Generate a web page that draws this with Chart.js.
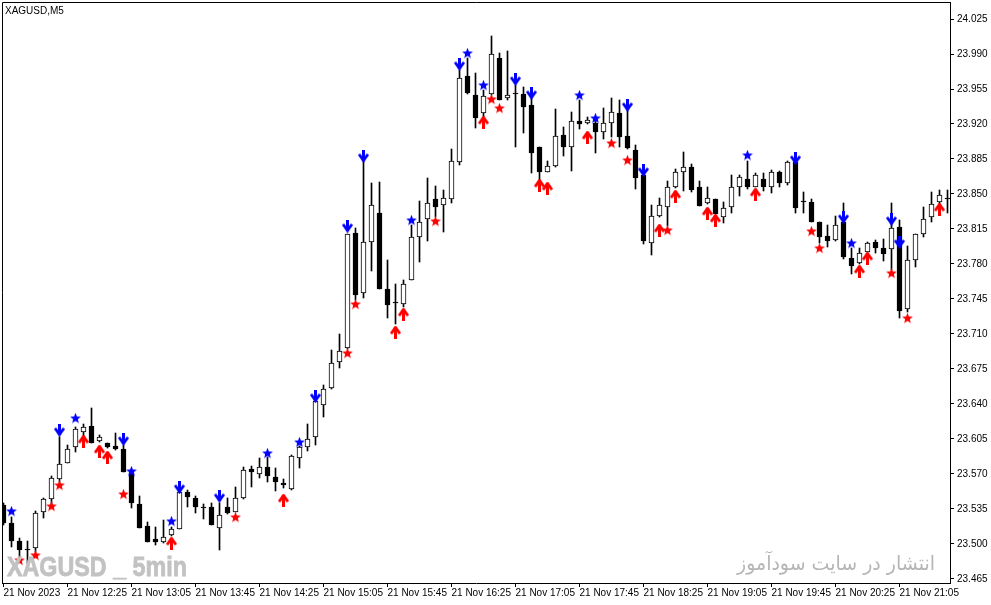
<!DOCTYPE html>
<html><head><meta charset="utf-8">
<script src="https://cdn.jsdelivr.net/npm/chart.js@4.4.0/dist/chart.umd.min.js"></script>
<style>html,body{margin:0;padding:0;background:#fff;overflow:hidden}#wrap{width:991px;height:605px;position:relative}canvas{display:block}</style>
</head><body><div id="wrap"><canvas id="c" width="991" height="605"></canvas></div>
<script>
// ---- data (XAGUSD M5) ----
const opens = [23.539,23.521,23.503,23.494,23.496,23.532,23.545,23.565,23.581,23.597,23.612,23.618,23.603,23.601,23.598,23.595,23.571,23.540,23.518,23.505,23.502,23.509,23.515,23.552,23.546,23.537,23.537,23.516,23.537,23.532,23.546,23.575,23.570,23.577,23.567,23.561,23.555,23.586,23.597,23.607,23.639,23.656,23.682,23.696,23.811,23.751,23.802,23.831,23.755,23.741,23.740,23.764,23.807,23.825,23.845,23.839,23.845,23.882,23.968,23.949,23.931,23.950,23.986,23.946,23.951,23.950,23.939,23.897,23.872,23.878,23.909,23.897,23.923,23.921,23.921,23.912,23.921,23.931,23.908,23.894,23.869,23.801,23.828,23.837,23.857,23.872,23.877,23.857,23.841,23.845,23.827,23.837,23.857,23.865,23.857,23.865,23.857,23.872,23.861,23.882,23.842,23.842,23.822,23.808,23.804,23.822,23.786,23.781,23.792,23.802,23.796,23.795,23.817,23.735,23.784,23.810,23.827,23.842,23.845];
const highs = [23.541,23.527,23.506,23.503,23.533,23.546,23.568,23.607,23.599,23.617,23.620,23.636,23.609,23.601,23.611,23.599,23.571,23.548,23.522,23.517,23.524,23.517,23.553,23.554,23.548,23.540,23.541,23.541,23.546,23.557,23.577,23.578,23.586,23.587,23.576,23.565,23.589,23.598,23.620,23.646,23.659,23.694,23.710,23.810,23.816,23.884,23.861,23.862,23.784,23.760,23.764,23.819,23.843,23.866,23.858,23.854,23.895,23.974,23.986,23.971,23.954,24.008,23.991,23.993,23.959,23.957,23.946,23.897,23.883,23.935,23.917,23.932,23.944,23.927,23.924,23.936,23.946,23.944,23.934,23.899,23.869,23.839,23.846,23.863,23.875,23.892,23.880,23.863,23.857,23.845,23.842,23.869,23.869,23.883,23.871,23.871,23.874,23.873,23.883,23.886,23.852,23.845,23.822,23.819,23.828,23.841,23.796,23.796,23.802,23.804,23.805,23.841,23.824,23.798,23.810,23.837,23.852,23.854,23.854];
const lows = [23.519,23.497,23.486,23.480,23.492,23.526,23.537,23.562,23.581,23.592,23.608,23.601,23.602,23.596,23.594,23.572,23.536,23.516,23.502,23.499,23.501,23.508,23.515,23.537,23.531,23.525,23.519,23.494,23.530,23.532,23.545,23.557,23.566,23.562,23.553,23.556,23.554,23.576,23.593,23.599,23.627,23.655,23.676,23.695,23.744,23.746,23.773,23.755,23.726,23.720,23.737,23.764,23.782,23.803,23.827,23.812,23.841,23.879,23.950,23.916,23.926,23.949,23.944,23.944,23.897,23.911,23.871,23.862,23.872,23.877,23.888,23.873,23.915,23.920,23.891,23.905,23.907,23.897,23.895,23.855,23.800,23.789,23.827,23.818,23.856,23.853,23.852,23.838,23.840,23.830,23.821,23.831,23.848,23.855,23.857,23.853,23.851,23.857,23.859,23.831,23.831,23.822,23.801,23.797,23.803,23.785,23.770,23.780,23.792,23.791,23.783,23.774,23.726,23.732,23.777,23.807,23.822,23.840,23.831];
const closes = [23.521,23.503,23.494,23.494,23.531,23.545,23.566,23.580,23.595,23.615,23.617,23.601,23.607,23.597,23.595,23.572,23.541,23.516,23.502,23.502,23.507,23.515,23.552,23.547,23.537,23.536,23.519,23.529,23.531,23.546,23.574,23.572,23.577,23.568,23.562,23.559,23.588,23.597,23.605,23.643,23.655,23.681,23.693,23.810,23.749,23.802,23.839,23.755,23.739,23.741,23.760,23.807,23.822,23.841,23.837,23.846,23.883,23.966,23.951,23.926,23.948,23.990,23.944,23.949,23.950,23.937,23.891,23.872,23.878,23.908,23.897,23.923,23.920,23.924,23.912,23.921,23.932,23.907,23.896,23.866,23.803,23.828,23.839,23.857,23.872,23.877,23.854,23.838,23.846,23.830,23.836,23.857,23.867,23.857,23.869,23.857,23.872,23.861,23.882,23.836,23.842,23.822,23.807,23.803,23.819,23.787,23.778,23.791,23.801,23.796,23.790,23.816,23.733,23.784,23.810,23.825,23.840,23.849,23.845];

const timeLabels = ["21 Nov 2023","21 Nov 12:25","21 Nov 13:05","21 Nov 13:45","21 Nov 14:25","21 Nov 15:05","21 Nov 15:45","21 Nov 16:25","21 Nov 17:05","21 Nov 17:45","21 Nov 18:25","21 Nov 19:05","21 Nov 19:45","21 Nov 20:25","21 Nov 21:05"];
const timeLabelStep = 8;
const priceTicks = [23.465,23.500,23.535,23.570,23.605,23.640,23.675,23.710,23.745,23.780,23.815,23.850,23.885,23.920,23.955,23.990,24.025];

const blueArrowIdx = [7,15,22,27,39,43,45,57,64,66,78,80,99,105,111,112];
const blueArrowPrice = [23.614,23.605,23.557,23.548,23.648,23.818,23.888,23.980,23.965,23.951,23.939,23.874,23.886,23.827,23.825,23.802];
const blueStarIdx = [1,9,16,21,33,37,51,58,60,72,74,93,106];
const blueStarPrice = [23.533,23.626,23.573,23.523,23.591,23.602,23.824,23.991,23.959,23.949,23.926,23.889,23.801];
const redArrowIdx = [10,12,13,21,35,49,50,60,67,68,73,82,84,88,89,94,107,108,117];
const redArrowPrice = [23.603,23.593,23.587,23.501,23.544,23.712,23.730,23.922,23.859,23.856,23.907,23.814,23.848,23.831,23.824,23.850,23.773,23.786,23.835];
const redStarIdx = [2,4,6,7,15,29,43,44,54,61,62,76,78,83,101,102,111,113];
const redStarPrice = [23.484,23.489,23.538,23.559,23.550,23.527,23.691,23.740,23.823,23.945,23.936,23.901,23.884,23.814,23.813,23.796,23.771,23.726];

// ---- marker glyphs ----
function makeArrow(color, up) {
  const c = document.createElement('canvas'); c.width = 11; c.height = 13;
  const g = c.getContext('2d');
  if (up) { g.translate(0, 13); g.scale(1, -1); }
  g.fillStyle = color; g.strokeStyle = color;
  g.fillRect(4, 0, 3, 10);
  g.lineWidth = 2.8; g.lineJoin = 'round'; g.lineCap = 'butt';
  g.beginPath(); g.moveTo(1, 4.8); g.quadraticCurveTo(3.5, 8, 5.5, 11.2); g.quadraticCurveTo(7.5, 8, 10, 4.8); g.stroke();
  return c;
}
function makeStar(color) {
  const c = document.createElement('canvas'); c.width = 11; c.height = 11;
  const g = c.getContext('2d');
  g.fillStyle = color; g.beginPath();
  for (let k = 0; k < 10; k++) {
    const r = k % 2 ? 2.4 : 5.7;
    const a = -Math.PI / 2 + k * Math.PI / 5;
    const px = 5.5 + r * Math.cos(a), py = 6 + r * Math.sin(a);
    k ? g.lineTo(px, py) : g.moveTo(px, py);
  }
  g.closePath(); g.fill();
  return c;
}
const imgBlueArrow = makeArrow('#0000ff', false);
const imgRedArrow = makeArrow('#ff0000', true);
const imgBlueStar = makeStar('#0000ff');
const imgRedStar = makeStar('#ff0000');

const toPts = (idx, pr) => idx.map((v, k) => ({x: v, y: pr[k]}));
const markerSet = (data, img) => ({
  type: 'scatter', data, pointStyle: img, pointRadius: 5, order: 0, clip: 0,
  showLine: false
});

const FONT = '"Liberation Sans", Arial, sans-serif';

const decor = {
  id: 'decor',
  afterDatasetsDraw(chart) {
    const ctx = chart.ctx;
    ctx.save();
    // watermark left
    ctx.font = 'bold 27px ' + FONT;
    ctx.fillStyle = '#c2c2c2';
    ctx.strokeStyle = '#c2c2c2';
    ctx.lineWidth = 0.8;
    ctx.textBaseline = 'alphabetic';
    ctx.textAlign = 'left';
    let t = 'XAGUSD _ 5min';
    let w = ctx.measureText(t).width;
    ctx.save(); ctx.translate(7, 575.5); ctx.scale(180 / w, 1); ctx.fillText(t, 0, 0); ctx.strokeText(t, 0, 0); ctx.restore();
    // watermark right (Persian)
    ctx.font = '20px "DejaVu Sans", ' + FONT;
    ctx.fillStyle = '#b6b6b6';
    ctx.textAlign = 'right';
    ctx.direction = 'rtl';
    t = 'انتشار در سایت سودآموز';
    w = ctx.measureText(t).width;
    ctx.save(); ctx.translate(935, 570); ctx.scale(198 / w, 1); ctx.fillText(t, 0, 0); ctx.restore();
    ctx.restore();
  },
  afterDraw(chart) {
    const ctx = chart.ctx, a = chart.chartArea;
    ctx.save();
    ctx.strokeStyle = '#000'; ctx.lineWidth = 1;
    ctx.beginPath();
    ctx.moveTo(a.left + 0.5, a.bottom); ctx.lineTo(a.left + 0.5, a.top + 0.5); ctx.lineTo(a.right, a.top + 0.5);
    ctx.stroke();
    ctx.font = '10px ' + FONT; ctx.fillStyle = '#000'; ctx.textBaseline = 'alphabetic'; ctx.textAlign = 'left';
    ctx.fillText('XAGUSD,M5', 5, 14);
    ctx.restore();
  }
};

new Chart(document.getElementById('c'), {
  type: 'bar',
  data: {
    datasets: [
      markerSet(toPts(blueArrowIdx, blueArrowPrice), imgBlueArrow),
      markerSet(toPts(blueStarIdx, blueStarPrice), imgBlueStar),
      markerSet(toPts(redArrowIdx, redArrowPrice), imgRedArrow),
      markerSet(toPts(redStarIdx, redStarPrice), imgRedStar),
      {
        type: 'bar', order: 1, grouped: false, clip: 0,
        data: opens.map((o, i) => ({x: i, y: [o, closes[i]]})),
        backgroundColor: c => closes[c.dataIndex] > opens[c.dataIndex] ? '#ffffff' : '#000000',
        borderColor: '#000000', borderWidth: 1, borderSkipped: false,
        barThickness: 5, maxBarThickness: 5, minBarLength: 1
      },
      {
        type: 'bar', order: 2, grouped: false, clip: 0,
        data: lows.map((l, i) => ({x: i, y: [l, highs[i]]})),
        backgroundColor: '#000000', borderWidth: 0,
        barThickness: 1, maxBarThickness: 1, minBarLength: 1
      }
    ]
  },
  options: {
    responsive: false, animation: false, devicePixelRatio: 1, events: [],
    layout: {autoPadding: false, padding: {left: 2, top: 2, right: 0, bottom: 0}},
    plugins: {legend: {display: false}, tooltip: {enabled: false}, title: {display: false}},
    scales: {
      x: {
        type: 'linear', min: -0.1875, max: 118.3125, offset: false, beginAtZero: false,
        afterBuildTicks: s => { s.ticks = timeLabels.map((l, k) => ({value: k * timeLabelStep})); },
        afterFit: s => { s.height = 22; s.paddingLeft = 0; s.paddingRight = 0; },
        ticks: {autoSkip: false, maxRotation: 0, minRotation: 0, align: 'start', padding: 0,
          color: '#000', font: {family: FONT, size: 10},
          callback: (v, i) => timeLabels[i]},
        grid: {display: true, offset: false, drawOnChartArea: false, drawTicks: true, tickLength: 4, color: '#000', lineWidth: 1},
        border: {display: true, color: '#000', width: 1}
      },
      y: {
        type: 'linear', position: 'right', min: 23.461, max: 24.042, beginAtZero: false,
        afterBuildTicks: s => { s.ticks = priceTicks.map(v => ({value: v})); },
        afterFit: s => { s.width = 41; s.paddingTop = 0; s.paddingBottom = 0; },
        ticks: {padding: 3, color: '#000', font: {family: FONT, size: 10},
          callback: v => Number(v).toFixed(3)},
        grid: {display: true, drawOnChartArea: false, drawTicks: true, tickLength: 4, color: '#000', lineWidth: 1},
        border: {display: true, color: '#000', width: 1}
      }
    }
  },
  plugins: [decor]
});
</script></body></html>
